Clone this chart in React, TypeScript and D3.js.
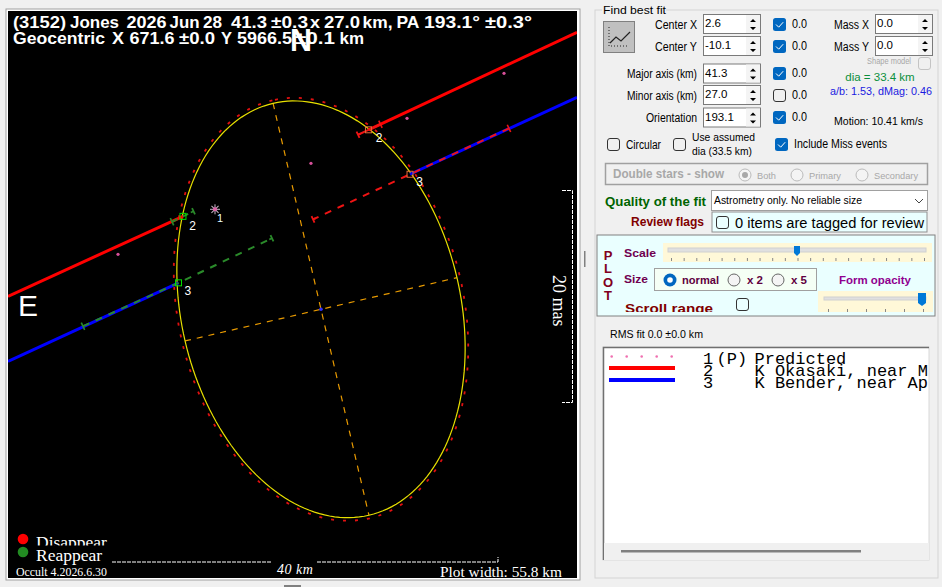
import React from "react";
import * as d3 from "d3";

// ---- Fit values (km, east + / north +, relative to the ellipse centre)
const majorAxisKm = 40.9;
const minorAxisKm = 27.0;
const orientationDeg = 13.1;
const predictedMajorKm = 41.5;
const predictedMinorKm = 27.6;

const predictedPoints: [number, number][] = [[-17.7, 22.82], [-8.32, 18.47], [0.97, 14.12], [19.63, 5.32]];
const starPoint: [number, number] = [10.25, 9.67];
const redLeft: [number, number][] = [[30.27, 1.26], [13.35, 8.99]];
const redRight: [number, number][] = [[-4.59, 17.36], [-24.76, 26.79]];
const blueLeft: [number, number][] = [[30.27, -5.03], [13.78, 2.56]];
const blueRight: [number, number][] = [[-8.61, 13.06], [-24.76, 20.5]];
const greenDashOnRed: [number, number][] = [[14.41, 8.46], [13.35, 8.99], [12.33, 9.48]];
const greenDashInside: [number, number][] = [[23.02, -1.64], [13.78, 2.56], [4.74, 6.87]];
const redDashInside: [number, number][] = [[-18.18, 17.5], [-8.61, 13.06], [0.77, 8.7]];
const redDashTop: [number, number][] = [[-5.75, 17.89], [-4.59, 17.36], [-3.58, 16.88]];
const greenSquares: [number, number][] = [[13.35, 8.99], [13.78, 2.56]];
const redSquares: [number, number][] = [[-4.59, 17.36], [-8.61, 13.06]];
const chordLabels: [string, number, number][] = [
  ["2", 12.75, 8.1], ["3", 13.2, 1.8], ["2", -5.3, 16.6], ["3", -9.2, 12.3],
];
const titleLine1: [string, number, number][] = [
  ["(3152)", 13, 53], ["Jones", 70, 49], ["2026", 126.5, 40], ["Jun", 169.5, 30], ["28", 203, 19],
  ["41.3", 231, 36], ["±0.3", 271, 37], ["x", 310, 10], ["27.0", 324, 36], ["km,", 362.5, 30],
  ["PA", 396.5, 23], ["193.1°", 424, 56], ["±0.3°", 485, 47],
];
const titleLine2: [string, number, number][] = [
  ["Geocentric", 13, 92], ["X", 112, 12], ["671.6", 129.5, 45], ["±0.0", 179, 36], ["Y", 221, 11],
  ["5966.5", 237, 55], ["±0.1", 295, 40], ["km", 339.6, 24.5],
];
const centerSpinLabels = ["Center X", "Center Y", "Major axis (km)", "Minor axis (km)", "Orientation"];
const centerSpinWidths = [42, 42, 70, 70, 51];
const centerSpinValues = ["2.6", "-10.1", "41.3", "27.0", "193.1"];
const spinChecked = [true, true, true, false, true];
const listNumbers = ["1", "2", "3"];
const listNames = ["Predicted", "K Okasaki, near M", "K Bender, near Ap"];

const PX_PER_KM = 10.34;
const CX = 321, CY = 309.3;
const sx = d3.scaleLinear().domain([0, 10]).range([CX, CX - 10 * PX_PER_KM]);
const sy = d3.scaleLinear().domain([0, 10]).range([CY, CY - 10 * PX_PER_KM]);
const lineKm = d3.line<[number, number]>().x((d) => sx(d[0])).y((d) => sy(d[1]));

function ellipse(majorKm: number, minorKm: number): [number, number][] {
  const r = (orientationDeg * Math.PI) / 180;
  return d3.range(0, 360, 2).map((deg) => {
    const t = (deg * Math.PI) / 180;
    const u = (majorKm / 2) * Math.cos(t), v = (minorKm / 2) * Math.sin(t);
    return [u * Math.sin(r) + v * Math.cos(r), u * Math.cos(r) - v * Math.sin(r)] as [number, number];
  });
}
const closed = d3.line<[number, number]>().x((d) => sx(d[0])).y((d) => sy(d[1])).curve(d3.curveLinearClosed);
const rad = (orientationDeg * Math.PI) / 180;
const majorEnds: [number, number][] = [
  [(majorAxisKm / 2) * Math.sin(rad), (majorAxisKm / 2) * Math.cos(rad)],
  [-(majorAxisKm / 2) * Math.sin(rad), -(majorAxisKm / 2) * Math.cos(rad)],
];
const minorEnds: [number, number][] = [
  [(minorAxisKm / 2) * Math.cos(rad), -(minorAxisKm / 2) * Math.sin(rad)],
  [-(minorAxisKm / 2) * Math.cos(rad), (minorAxisKm / 2) * Math.sin(rad)],
];

const UI = "'Liberation Sans', Arial, sans-serif";
const SERIF = "'Liberation Serif', serif";
const MONO = "'Liberation Mono', monospace";

function Txt(p: any) {
  const { x, y, w, size = 12, fill = "#000", font = UI, weight, anchor, style, children } = p;
  return (
    <text x={x} y={y} fontSize={size} fill={fill} fontFamily={font} fontWeight={weight} textAnchor={anchor}
      textLength={w} lengthAdjust={w ? "spacingAndGlyphs" : undefined} style={style}>{children}</text>
  );
}
function Check({ x, y, on, s = 13, c = "#333" }: any) {
  return on ? (
    <g>
      <rect x={x} y={y} width={s} height={s} rx={2.5} fill="#0067c0" />
      <path d={`M${x + 3} ${y + 6.5}l2.7 2.7l4.5-5`} fill="none" stroke="#fff" strokeWidth={1} />
    </g>
  ) : <rect x={x + 0.5} y={y + 0.5} width={s - 1} height={s - 1} rx={2.5} fill="none" stroke={c} />;
}
function Radio({ x, y, on, c = "#666" }: any) {
  return on ? (
    <g><circle cx={x} cy={y} r={6.5} fill="#0067c0" /><circle cx={x} cy={y} r={2.8} fill="#fff" /></g>
  ) : <circle cx={x} cy={y} r={6} fill="#f4f4f4" stroke={c} />;
}
function Spin({ x, y, h, value }: any) {
  return (
    <g>
      <rect x={x + 0.5} y={y + 0.5} width={57} height={h} fill="#fff" stroke="#7a7a7a" />
      <rect x={x + 43} y={y + 1} width={14} height={h - 1} fill="#f4f4f4" />
      <path d={`M${x + 47} ${y + 8}l3-3l3 3z M${x + 47} ${y + h - 6}l3 3l3-3z`} fill="#000" />
      <Txt x={x + 2} y={y + 13} size={11.5}>{value}</Txt>
    </g>
  );
}
function Marker({ p, color }: { p: [number, number]; color: string }) {
  return (
    <g transform={`translate(${sx(p[0])},${sy(p[1])}) rotate(-25)`} stroke={color} strokeWidth={1.6} fill="none">
      <path d="M0 -4V4" />
    </g>
  );
}
function Ymark({ p, color, dir }: { p: [number, number]; color: string; dir: number }) {
  return (
    <g transform={`translate(${sx(p[0])},${sy(p[1])}) rotate(-25)`} stroke={color} strokeWidth={1.8} fill="none">
      <path d={`M0 -3.5V3.5M0 0H${dir * 3}`} />
    </g>
  );
}

export default function App() {
  const yRows = [14, 36, 63.5, 85, 107.5];
  const labelY = [29, 51, 78, 100, 122];
  const checkY = [18, 40, 67, 89, 111];
  return (
    <svg width={942} height={587} viewBox="0 0 942 587" style={{ position: "fixed", left: 0, top: 0, display: "block" }}>
      <defs>
        <clipPath id="plotClip"><rect x={8} y={11} width={569} height={567} /></clipPath>
        <clipPath id="listClip"><rect x={604} y={348} width={324} height={195} /></clipPath>
        <clipPath id="scrollClip"><rect x={600} y={295} width={220} height={17} /></clipPath>
        <clipPath id="disClip"><rect x={30} y={525} width={100} height={20.5} /></clipPath>
        <clipPath id="bottomClip"><rect x={8} y={555} width={569} height={23} /></clipPath>
      </defs>
      <rect width={942} height={587} fill="#f0f0f0" />

      {/* plot frame */}
      <rect x={6} y={9} width={574} height={571} fill="#fff" stroke="#a0a0a0" strokeWidth={1} />
      <rect x={8} y={11} width={569} height={567} fill="#000" />

      <g clipPath="url(#plotClip)">
        <path d={closed(ellipse(predictedMajorKm, predictedMinorKm)) ?? ""} fill="none" stroke="#e01010" strokeWidth={1.8} strokeDasharray="3 9" />
        <path d={lineKm(majorEnds) ?? ""} stroke="#e89a00" strokeWidth={1.2} strokeDasharray="6 6" fill="none" />
        <path d={lineKm(minorEnds) ?? ""} stroke="#e89a00" strokeWidth={1.2} strokeDasharray="6 6" fill="none" />
        <path d={closed(ellipse(majorAxisKm, minorAxisKm)) ?? ""} fill="none" stroke="#e8e000" strokeWidth={1.2} />

        <path d={lineKm(redLeft) ?? ""} stroke="#ff0000" strokeWidth={3} />
        <path d={lineKm(redRight) ?? ""} stroke="#ff0000" strokeWidth={3} />
        <path d={lineKm(blueLeft) ?? ""} stroke="#0000ff" strokeWidth={3} />
        <path d={lineKm(blueRight) ?? ""} stroke="#0000ff" strokeWidth={3} />

        <path d={lineKm(greenDashOnRed) ?? ""} stroke="#2a8a2a" strokeWidth={2} strokeDasharray="6 6" fill="none" />
        <path d={lineKm(greenDashInside) ?? ""} stroke="#2a8a2a" strokeWidth={2} strokeDasharray="7 7" fill="none" />
        <path d={lineKm(redDashInside) ?? ""} stroke="#f01414" strokeWidth={2} strokeDasharray="7 7" fill="none" />
        <path d={lineKm(redDashTop) ?? ""} stroke="#f01414" strokeWidth={2} fill="none" />

        <Marker p={greenDashOnRed[0]} color="#2a8a2a" />
        <Ymark p={greenDashOnRed[2]} color="#2a8a2a" dir={-1} />
        <Marker p={greenDashInside[0]} color="#2a8a2a" />
        <Ymark p={greenDashInside[2]} color="#2a8a2a" dir={-1} />
        <Marker p={redDashInside[0]} color="#f01414" />
        <Ymark p={redDashInside[2]} color="#f01414" dir={1} />
        <Marker p={redDashTop[0]} color="#f01414" />
        <Ymark p={redDashTop[2]} color="#f01414" dir={1} />

        {greenSquares.map((p, i) => (
          <rect key={i} x={sx(p[0]) - 3} y={sy(p[1]) - 3} width={6} height={6} fill="none" stroke="#00e000" strokeWidth={1} />
        ))}
        {redSquares.map((p, i) => (
          <rect key={i} x={sx(p[0]) - 3} y={sy(p[1]) - 3} width={6} height={6} fill="none" stroke="#e06a3a" strokeWidth={1} />
        ))}

        {predictedPoints.map((p, i) => (
          <circle key={i} cx={sx(p[0])} cy={sy(p[1])} r={1.6} fill="#d8509a" />
        ))}
        <g transform={`translate(${sx(starPoint[0])},${sy(starPoint[1])})`} stroke="#c8b8c8" strokeWidth={1}>
          {[0, 45, 90, 135].map((a) => <path key={a} d="M-5 0H5" transform={`rotate(${a})`} />)}
          <circle r={2} fill="#e060a8" stroke="none" />
        </g>
        <Txt x={sx(starPoint[0]) + 2} y={sy(starPoint[1]) + 13} size={11} fill="#e8ffff">1</Txt>
        {chordLabels.map(([t, e, n], i) => (
          <Txt key={i} x={sx(e)} y={sy(n) + 4} size={12} fill="#fff">{t}</Txt>
        ))}

        <circle cx={sx(0)} cy={sy(0)} r={1.8} fill="#3030ff" />

        <Txt x={290} y={51} size={31} fill="#fff" weight={700} w={22}>N</Txt>
        {titleLine1.map(([t, x, w]) => (
          <Txt key={t + x} x={x} y={28} size={16.5} fill="#fff" w={w} weight={700}>{t}</Txt>
        ))}
        {titleLine2.map(([t, x, w]) => (
          <Txt key={t + x} x={x} y={44} size={16.5} fill="#fff" w={w} weight={700}>{t}</Txt>
        ))}
        <Txt x={18} y={316} size={30} fill="#fff">E</Txt>

        {/* scale bars */}
        <path d="M562 190.5H572.5V402.5H562" fill="none" stroke="#fff" strokeWidth={1} strokeDasharray="4 1" />
        <Txt x={0} y={0} size={18} fill="#fff" font={SERIF} style={{ transform: "translate(553px,275px) rotate(90deg)" }}>20 mas</Txt>

        <path d="M112 562H272M317 562H498V557" fill="none" stroke="#fff" strokeWidth={1} strokeDasharray="4 1" />
        <Txt x={277} y={574} size={14} fill="#fff" font={SERIF} style={{ fontStyle: "italic", letterSpacing: "0.5px" }}>40 km</Txt>

        <circle cx={23} cy={539} r={5.3} fill="#ff0000" />
        <circle cx={23} cy={552} r={5.3} fill="#228b22" />
        <g clipPath="url(#disClip)"><Txt x={36} y={548} size={17.5} fill="#fff" font={SERIF}>Disappear</Txt></g>
        <Txt x={36} y={561} size={17.5} fill="#fff" font={SERIF}>Reappear</Txt>
        <Txt x={16} y={576} size={12} fill="#fff" font={SERIF} w={91}>Occult 4.2026.6.30</Txt>
        <g clipPath="url(#bottomClip)"><Txt x={440} y={577} size={15} fill="#fff" font={SERIF} w={122}>Plot width: 55.8 km</Txt></g>
      </g>

      {/* grips */}
      <rect x={584} y={251} width={1.5} height={16} fill="#808080" />
      <rect x={284} y={585} width={17} height={2} fill="#808080" />

      {/* side panel */}
      <rect x={595} y={10} width={343} height={568} fill="none" stroke="#d4d4d4" />
      <rect x={602} y={7} width={64} height={10} fill="#f0f0f0" />
      <Txt x={603} y={14} size={11.5} w={63}>Find best fit</Txt>

      <rect x={603.5} y={21.5} width={31} height={31} fill="#c0c0c0" stroke="#808080" />
      <path d="M609 27V46H629" fill="none" stroke="#222" strokeWidth={1} strokeDasharray="1 2" />
      <path d="M610 43l6-6l5 4l9-9" fill="none" stroke="#222" strokeWidth={1.2} />

      {centerSpinLabels.map((l, i) => (
        <g key={l}>
          <Txt x={697 - centerSpinWidths[i]} y={labelY[i]} size={12} w={centerSpinWidths[i]}>{l}</Txt>
          <Spin x={703} y={yRows[i]} h={19} value={centerSpinValues[i]} />
          <Check x={773} y={checkY[i]} on={spinChecked[i]} />
          <Txt x={792} y={labelY[i] - 1} size={12} w={15}>0.0</Txt>
        </g>
      ))}
      <Txt x={834} y={29} size={12} w={35}>Mass X</Txt>
      <Txt x={834} y={51} size={12} w={35}>Mass Y</Txt>
      <Spin x={875} y={14} h={19} value="0.0" />
      <Spin x={875} y={36} h={19} value="0.0" />
      <Txt x={867} y={64} size={9} fill="#a8a8a8" w={44}>Shape model</Txt>
      <Check x={918} y={57} s={13} c="#c4c4c4" />
      <Txt x={880} y={81} anchor="middle" size={11.5} fill="#0a8f3c">dia = 33.4 km</Txt>
      <Txt x={830} y={95} size={11.5} fill="#1a1ae0" w={102}>a/b: 1.53, dMag: 0.46</Txt>
      <Txt x={834} y={125} size={11.5} w={89}>Motion: 10.41 km/s</Txt>

      <Check x={607} y={138} on={false} />
      <Txt x={626} y={149} size={12} w={35}>Circular</Txt>
      <Check x={673} y={138} on={false} />
      <Txt x={692} y={141} size={11} w={63}>Use assumed</Txt>
      <Txt x={692} y={155} size={11} w={60}>dia (33.5 km)</Txt>
      <Check x={775} y={138} on={true} />
      <Txt x={794} y={148} size={12} w={93}>Include Miss events</Txt>

      <rect x={605.5} y={163.5} width={322} height={21} fill="#f0f0f0" stroke="#a0a0a0" strokeWidth={1.5} />
      <Txt x={613} y={178} size={12} weight={700} fill="#a8a8a8" w={111}>Double stars - show</Txt>
      <Radio x={745} y={175} on={false} c="#bbb" />
      <circle cx={745} cy={175} r={3} fill="#a8a8a8" />
      <Radio x={797} y={175} on={false} c="#bbb" />
      <Radio x={862} y={175} on={false} c="#bbb" />
      <Txt x={757} y={179} size={9.5} fill="#a8a8a8" w={19}>Both</Txt>
      <Txt x={809} y={179} size={9.5} fill="#a8a8a8" w={32}>Primary</Txt>
      <Txt x={874} y={179} size={9.5} fill="#a8a8a8" w={44}>Secondary</Txt>

      <Txt x={605} y={206} size={12} weight={700} fill="#006400" w={101}>Quality of the fit</Txt>
      <rect x={711.5} y={190.5} width={216} height={20} fill="#fff" stroke="#a0a0a0" />
      <Txt x={714} y={204} size={11.5} w={148}>Astrometry only. No reliable size</Txt>
      <path d="M915 199l4 4l4-4" fill="none" stroke="#444" />
      <Txt x={631} y={226} size={12} weight={700} fill="#800000" w={73}>Review flags</Txt>
      <rect x={712} y={212} width={215} height={20} fill="#eaffff" stroke="#909090" />
      <Check x={716} y={216} on={false} />
      <Txt x={735} y={228} size={14} w={189}>0 items are tagged for review</Txt>

      {/* PLOT panel */}
      <rect x={597} y={235} width={338} height={81} fill="#eaffff" stroke="#808080" strokeWidth={1} />
      {["P", "L", "O", "T"].map((c, i) => (
        <Txt key={c} x={608} y={260 + i * 13.3} anchor="middle" size={13} weight={700} fill="#800020">{c}</Txt>
      ))}
      <Txt x={624} y={257} size={11.5} weight={700} fill="#700050" w={32}>Scale</Txt>
      <rect x={663} y={243} width={269} height={19} fill="#fff8d8" />
      <rect x={668} y={248} width={258} height={4} fill="#e0e0e0" stroke="#d0d0d0" />
      {d3.range(21).map((i) => (
        <rect key={i} x={671 + i * 12.65} y={258} width={1} height={3} fill="#888" />
      ))}
      <path d="M794 246h6v7l-3 3l-3-3z" fill="#0078d7" />

      <Txt x={624} y={283} size={11.5} weight={700} fill="#700050" w={24}>Size</Txt>
      <rect x={654.5} y={268.5} width={162} height={22} fill="#f5fff5" stroke="#a0a0a0" />
      <Radio x={670} y={280} on={true} />
      <Txt x={682} y={284} size={11.5} weight={700} fill="#600040" w={37}>normal</Txt>
      <Radio x={734} y={280} on={false} />
      <Txt x={747} y={284} size={11.5} weight={700} fill="#600040">x 2</Txt>
      <Radio x={778} y={280} on={false} />
      <Txt x={791} y={284} size={11.5} weight={700} fill="#600040">x 5</Txt>
      <Txt x={839} y={284} size={11.5} weight={700} fill="#900090" w={72}>Form opacity</Txt>
      <g clipPath="url(#scrollClip)"><Txt x={625} y={313} size={13} weight={700} fill="#800000" w={88}>Scroll range</Txt></g>
      <Check x={736} y={298} on={false} />
      <rect x={818} y={291} width={115} height={21} fill="#fff8d8" />
      <rect x={824} y={297} width={102} height={3} fill="#e0e0e0" stroke="#d0d0d0" />
      {d3.range(6).map((i) => (
        <rect key={i} x={828 + i * 19} y={309} width={1} height={3} fill="#888" />
      ))}
      <path d="M918 293h8v10l-4 3l-4-3z" fill="#0078d7" />

      <Txt x={610} y={338} size={11.5} w={93}>RMS fit 0.0 ±0.0 km</Txt>

      {/* list */}
      <rect x={603} y={347} width={326} height={213} fill="#fff" stroke="#d8d8d8" />
      <path d="M603.5 560V347.5H929" fill="none" stroke="#707070" strokeWidth={1.5} />
      <rect x={604} y={543} width={325} height={17} fill="#f0f0f0" />
      <rect x={621} y={550} width={240} height={2.5} fill="#808080" />
      {d3.range(5).map((i) => (
        <circle key={i} cx={611.7 + i * 15} cy={356.5} r={1.3} fill="#f070b0" />
      ))}
      <rect x={609} y={366} width={66} height={4} fill="#ff0000" />
      <rect x={609} y={378} width={66} height={4} fill="#0000ff" />
      <g clipPath="url(#listClip)">
        <Txt x={716.5} y={364} size={17} font={MONO}>(P)</Txt>
        {listNames.map((t, i) => (
          <g key={t}>
            <Txt x={703} y={364 + i * 12} size={17} font={MONO}>{listNumbers[i]}</Txt>
            <Txt x={754.5} y={364 + i * 12} size={17} font={MONO} style={{ whiteSpace: "pre" }}>{t}</Txt>
          </g>
        ))}
      </g>
    </svg>
  );
}
